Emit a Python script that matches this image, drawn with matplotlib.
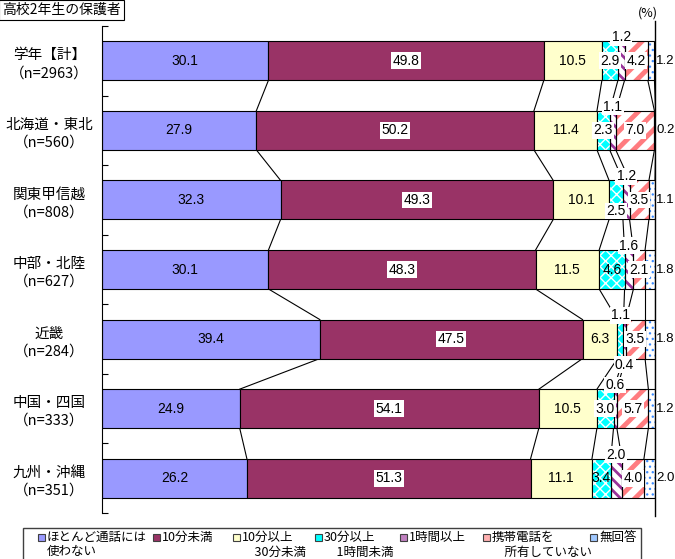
import matplotlib
matplotlib.use("Agg")
import matplotlib.pyplot as plt
from matplotlib.patches import Rectangle
import numpy as np

plt.rcParams['font.family'] = ['Noto Sans CJK JP', 'DejaVu Sans']

#----------------------------------------------------------------------------------------#
# Data

categories = ["学年【計】\n（n=2963）", "北海道・東北\n（n=560）", "関東甲信越\n（n=808）",
              "中部・北陸\n（n=627）", "近畿\n（n=284）", "中国・四国\n（n=333）", "九州・沖縄\n（n=351）"]
series_names = ["ほとんど通話には\n使わない", "10分未満", "10分以上\n　30分未満",
                "30分以上\n　1時間未満", "1時間以上", "携帯電話を\n　所有していない", "無回答"]

hotondo   = [30.1, 27.9, 32.3, 30.1, 39.4, 24.9, 26.2]
min10     = [49.8, 50.2, 49.3, 48.3, 47.5, 54.1, 51.3]
min10_30  = [10.5, 11.4, 10.1, 11.5, 6.3, 10.5, 11.1]
min30_60  = [2.9, 2.3, 2.5, 4.6, 1.1, 3.0, 3.4]
hour1     = [1.2, 1.1, 1.2, 1.6, 0.4, 0.6, 2.0]
no_phone  = [4.2, 7.0, 3.5, 2.1, 3.5, 5.7, 4.0]
no_answer = [1.2, 0.2, 1.1, 1.8, 1.8, 1.2, 2.0]

values = np.array([hotondo, min10, min10_30, min30_60, hour1, no_phone, no_answer])

#----------------------------------------------------------------------------------------#
# Styles

faces   = ['#9999FF', '#993366', '#FFFFCC', '#00FFFF', 'white', 'white', 'white']
hatches = [None, None, None, 'xxx', '\\\\\\', '//', '...']
hcolors = [None, None, None, 'white', '#993399', '#FF7C80', '#3C8CFF']
hwidths = [1, 1, 1, 1.0, 2.0, 3.5, 0.9]
marker_faces = ['#9999FF', '#993366', '#FFFFCC', '#00FFFF', '#C080C0', '#FFB0B0', '#A0C8FF']

# label placement for the small segments (row, series): where
special = {(1, 3): 'center', (2, 3): 'low', (4, 3): 'above',
           (0, 4): 'above', (1, 4): 'above', (2, 4): 'above', (3, 4): 'above',
           (4, 4): 'below', (5, 4): 'above', (6, 4): 'above'}
no_box = {(3, 3), (6, 3), (0, 0), (1, 0), (2, 0), (3, 0), (4, 0), (5, 0), (6, 0)}

h = 0.56
n = len(categories)
y = np.arange(n)
num_font = ['Liberation Sans', 'DejaVu Sans']

fig = plt.figure(figsize=(6.75, 5.59), dpi=100)
ax = fig.add_axes([102/675, 1-513/559, (655-102)/675, (513-26)/559])

left = np.zeros(n)
for k in range(values.shape[0]):
    v = values[k]
    if hatches[k] is None:
        ax.barh(y, v, left=left, height=h, color=faces[k], edgecolor='black', linewidth=0.8, zorder=2)
    else:
        bars = ax.barh(y, v, left=left, height=h, color=faces[k], edgecolor=hcolors[k],
                       hatch=hatches[k], linewidth=0, zorder=2)
        for b in bars:
            if hasattr(b, 'set_hatch_linewidth'):
                b.set_hatch_linewidth(hwidths[k])
        ax.barh(y, v, left=left, height=h, color='none', edgecolor='black', linewidth=0.8, zorder=3)

    for i in range(n):
        cx = left[i] + v[i] / 2
        where = special.get((i, k), 'center')
        box = dict(boxstyle='square,pad=0.1', facecolor='white', edgecolor='none')
        if (i, k) in no_box or k == 2:
            box = None
        if k == 6:
            ax.text(100.25, i, f"{v[i]:.1f}", ha='left', va='center', fontsize=9.5, zorder=6,
                    clip_on=False, family=num_font)
            continue
        if where == 'above':
            ty = i - h/2 - 0.06
        elif where == 'below':
            ty = i + h/2 + 0.09
        elif where == 'low':
            ty = i + h/2 - 0.12
        else:
            ty = i
        ax.text(cx, ty, f"{v[i]:.1f}", ha='center', va='center', fontsize=10, zorder=6, bbox=box,
                family=num_font)
    left = left + v

# series lines between bars
ends = np.cumsum(values, axis=0)
for k in range(values.shape[0]):
    for i in range(n - 1):
        ax.plot([ends[k, i], ends[k, i+1]], [i + h/2, i + 1 - h/2], color='black',
                linewidth=0.8, zorder=1)

ax.set_xlim(0, 100)
ax.set_ylim(n - 0.5, -0.5)
ax.set_yticks(y)
ax.set_yticklabels(categories, fontsize=10.5, linespacing=1.35)
ax.set_yticks(np.arange(-0.5, n, 1), minor=True)
ax.tick_params(axis='y', which='major', length=0, pad=8)
ax.tick_params(axis='y', which='minor', length=4, direction='in', width=0.8)
for lbl in ax.get_yticklabels():
    lbl.set_horizontalalignment('center')
    lbl.set_x(-0.075)
ax.set_xticks([])
ax.spines['top'].set_visible(False)
ax.spines['bottom'].set_visible(False)
ax.spines['left'].set_linewidth(0.8)
ax.spines['right'].set_visible(False)
ax.plot([100, 100], [-0.57, n - 0.45], color='black', linewidth=1.0, clip_on=False, zorder=5)

# title box and unit
fig.text(0.003, 1-10/559, "高校2年生の保護者", fontsize=10, va='center', ha='left',
         bbox=dict(boxstyle='square,pad=0.25', facecolor='white', edgecolor='black', linewidth=0.8))
fig.text(648/675, 1-13/559, "(%)", fontsize=9, va='center', ha='center')

# legend
fig.patches.append(Rectangle((23/675, -0.05), (641-23)/675, 1-528/559+0.05,
                             transform=fig.transFigure, facecolor='white', edgecolor='#404040',
                             linewidth=1.0))
marker_x = [38, 153, 233, 315, 400, 483, 590]
for k, name in enumerate(series_names):
    mx = marker_x[k]
    fig.patches.append(Rectangle((mx/675, 1-541/559), 7/675, 7/559, transform=fig.transFigure,
                                 facecolor=marker_faces[k], edgecolor='#404040', linewidth=0.8))
    fig.text((mx + 9)/675, 1-531/559, name, fontsize=9, va='top', ha='left', linespacing=1.15)

fig.savefig("out.png", dpi=100)
